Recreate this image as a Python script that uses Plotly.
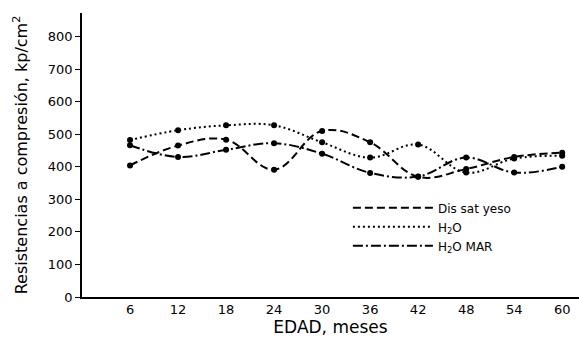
import plotly.graph_objects as go

edad = [6, 12, 18, 24, 30, 36, 42, 48, 54, 60]
dis_sat_yeso = [404, 465, 483, 391, 510, 475, 369, 393, 430, 443]
h2o = [482, 512, 527, 527, 475, 428, 468, 382, 425, 434]
h2o_mar = [466, 430, 452, 472, 440, 381, 370, 428, 382, 400]

x_ticks = [6, 12, 18, 24, 30, 36, 42, 48, 54, 60]
y_ticks = [0, 100, 200, 300, 400, 500, 600, 700, 800]

font_fam = "DejaVu Sans, Liberation Sans, sans-serif"

fig = go.Figure()
series = [
    ("Dis sat yeso", dis_sat_yeso, "8px,4px"),
    ("H<sub>2</sub>O", h2o, "2px,3px"),
    ("H<sub>2</sub>O MAR", h2o_mar, "10px,3px,2px,3px"),
]
for name, vals, dash in series:
    fig.add_trace(go.Scatter(
        x=edad, y=vals, name=name, mode="lines+markers", showlegend=False,
        line=dict(color="black", width=2, dash=dash, shape="spline", smoothing=1.1),
        marker=dict(color="black", size=6),
    ))
for name, vals, dash in series:
    fig.add_trace(go.Scatter(
        x=[None], y=[None], name=name, mode="lines", showlegend=True,
        line=dict(color="black", width=2, dash=dash),
    ))

fig.update_layout(
    width=579, height=344,
    margin=dict(l=82, r=0, t=13, b=47),
    paper_bgcolor="white", plot_bgcolor="white",
    font=dict(family=font_fam, color="black", size=12),
    showlegend=True,
    legend=dict(x=0.535, y=0.365, xanchor="left", yanchor="top",
                bgcolor="rgba(0,0,0,0)", font=dict(size=12),
                tracegroupgap=0, itemwidth=80),
    xaxis=dict(range=[0, 62.1], tickvals=x_ticks, ticktext=[str(v) for v in x_ticks],
               showline=True, linecolor="black", linewidth=1.5, ticks="",
               showgrid=False, zeroline=False,
               title=dict(text="EDAD, meses", font=dict(size=17), standoff=4),
               tickfont=dict(size=13)),
    yaxis=dict(range=[0, 872], tickvals=y_ticks, ticktext=[str(v) for v in y_ticks],
               showline=True, linecolor="black", linewidth=1.5, ticks="outside",
               ticklen=5, tickcolor="black", showgrid=False, zeroline=False,
               title=dict(text="Resistencias a compresión, kp/cm<sup>2</sup>", font=dict(size=16), standoff=16),
               tickfont=dict(size=13)),
)

fig.write_html("out.html")
